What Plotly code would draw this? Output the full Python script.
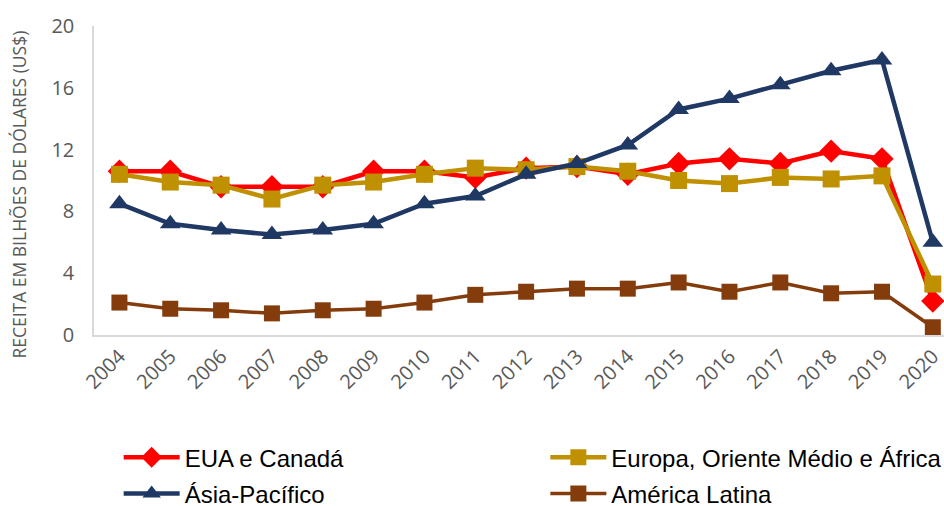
import plotly.graph_objects as go

anos = [str(a) for a in range(2004, 2021)]

eua_canada = [10.6, 10.6, 9.6, 9.6, 9.6, 10.6, 10.6, 10.2, 10.8, 10.9, 10.4, 11.1, 11.4, 11.1, 11.9, 11.4, 2.2]
europa_oriente_africa = [10.4, 9.9, 9.7, 8.8, 9.7, 9.9, 10.4, 10.8, 10.7, 10.9, 10.6, 10.0, 9.8, 10.2, 10.1, 10.3, 3.3]
asia_pacifico = [8.5, 7.2, 6.8, 6.5, 6.8, 7.2, 8.5, 9.0, 10.4, 11.1, 12.3, 14.6, 15.3, 16.2, 17.1, 17.8, 6.0]
america_latina = [2.1, 1.7, 1.6, 1.4, 1.6, 1.7, 2.1, 2.6, 2.8, 3.0, 3.0, 3.4, 2.8, 3.4, 2.7, 2.8, 0.5]

y_ticks = [0, 4, 8, 12, 16, 20]
y_title = "RECEITA EM BILHÕES DE DÓLARES (US$)"

# (name, values, colour, marker symbol, marker size, line width, legend column)
series = [
    ("EUA e Canadá", eua_canada, "#FF0000", "diamond", 18, 4.5, "legend"),
    ("Europa, Oriente Médio e África", europa_oriente_africa, "#BF9000", "square", 17, 4.5, "legend2"),
    ("Ásia-Pacífico", asia_pacifico, "#1F3864", "triangle-up", 18, 4.5, "legend"),
    ("América Latina", america_latina, "#843C0C", "square", 16, 3.5, "legend2"),
]

fig = go.Figure()
for nome, valores, cor, simbolo, tam, largura, leg in series:
    fig.add_trace(go.Scatter(
        x=list(range(len(anos))), y=valores, name=nome, mode="lines+markers",
        line=dict(color=cor, width=largura),
        marker=dict(symbol=simbolo, size=tam, color=cor),
        legend=leg, legendgroup=nome,
    ))

legend_style = dict(
    orientation="v", y=0.14, xref="paper", yref="container",
    xanchor="left", yanchor="top", itemwidth=56, tracegroupgap=2,
    font=dict(family="Liberation Sans", size=24, color="#000000"),
    bgcolor="rgba(0,0,0,0)",
)

fig.update_layout(
    width=944, height=506,
    margin=dict(l=94, r=0, t=26, b=171, autoexpand=False),
    paper_bgcolor="white", plot_bgcolor="white",
    font=dict(family="Open Sans", color="#595959"),
    showlegend=True,
    legend=dict(x=0.029, **legend_style),
    legend2=dict(x=0.531, **legend_style),
)

# vertical axis title, set slightly below the middle of the axis
fig.add_annotation(
    text=y_title, textangle=-90, showarrow=False,
    xref="paper", yref="paper", x=-0.088, y=0.455,
    xanchor="center", yanchor="middle",
    font=dict(family="Open Sans", size=17.5, color="#595959"),
)

fig.update_xaxes(
    range=[-0.5, 16.22], automargin=False, ticklabeloverflow="allow",
    tickmode="array", tickvals=list(range(len(anos))), ticktext=anos,
    tickangle=-45, tickfont=dict(size=20, color="#595959"),
    showline=True, linecolor="#D9D9D9", linewidth=1.5,
    showgrid=False, zeroline=False, ticks="",
)
fig.update_yaxes(
    range=[0, 20], tickvals=y_ticks, automargin=False,
    tickfont=dict(size=20, color="#595959"),
    showline=True, linecolor="#D9D9D9", linewidth=1.5,
    showgrid=False, zeroline=False, ticks="", ticklabelstandoff=14,
)

fig.write_html("out.html")
